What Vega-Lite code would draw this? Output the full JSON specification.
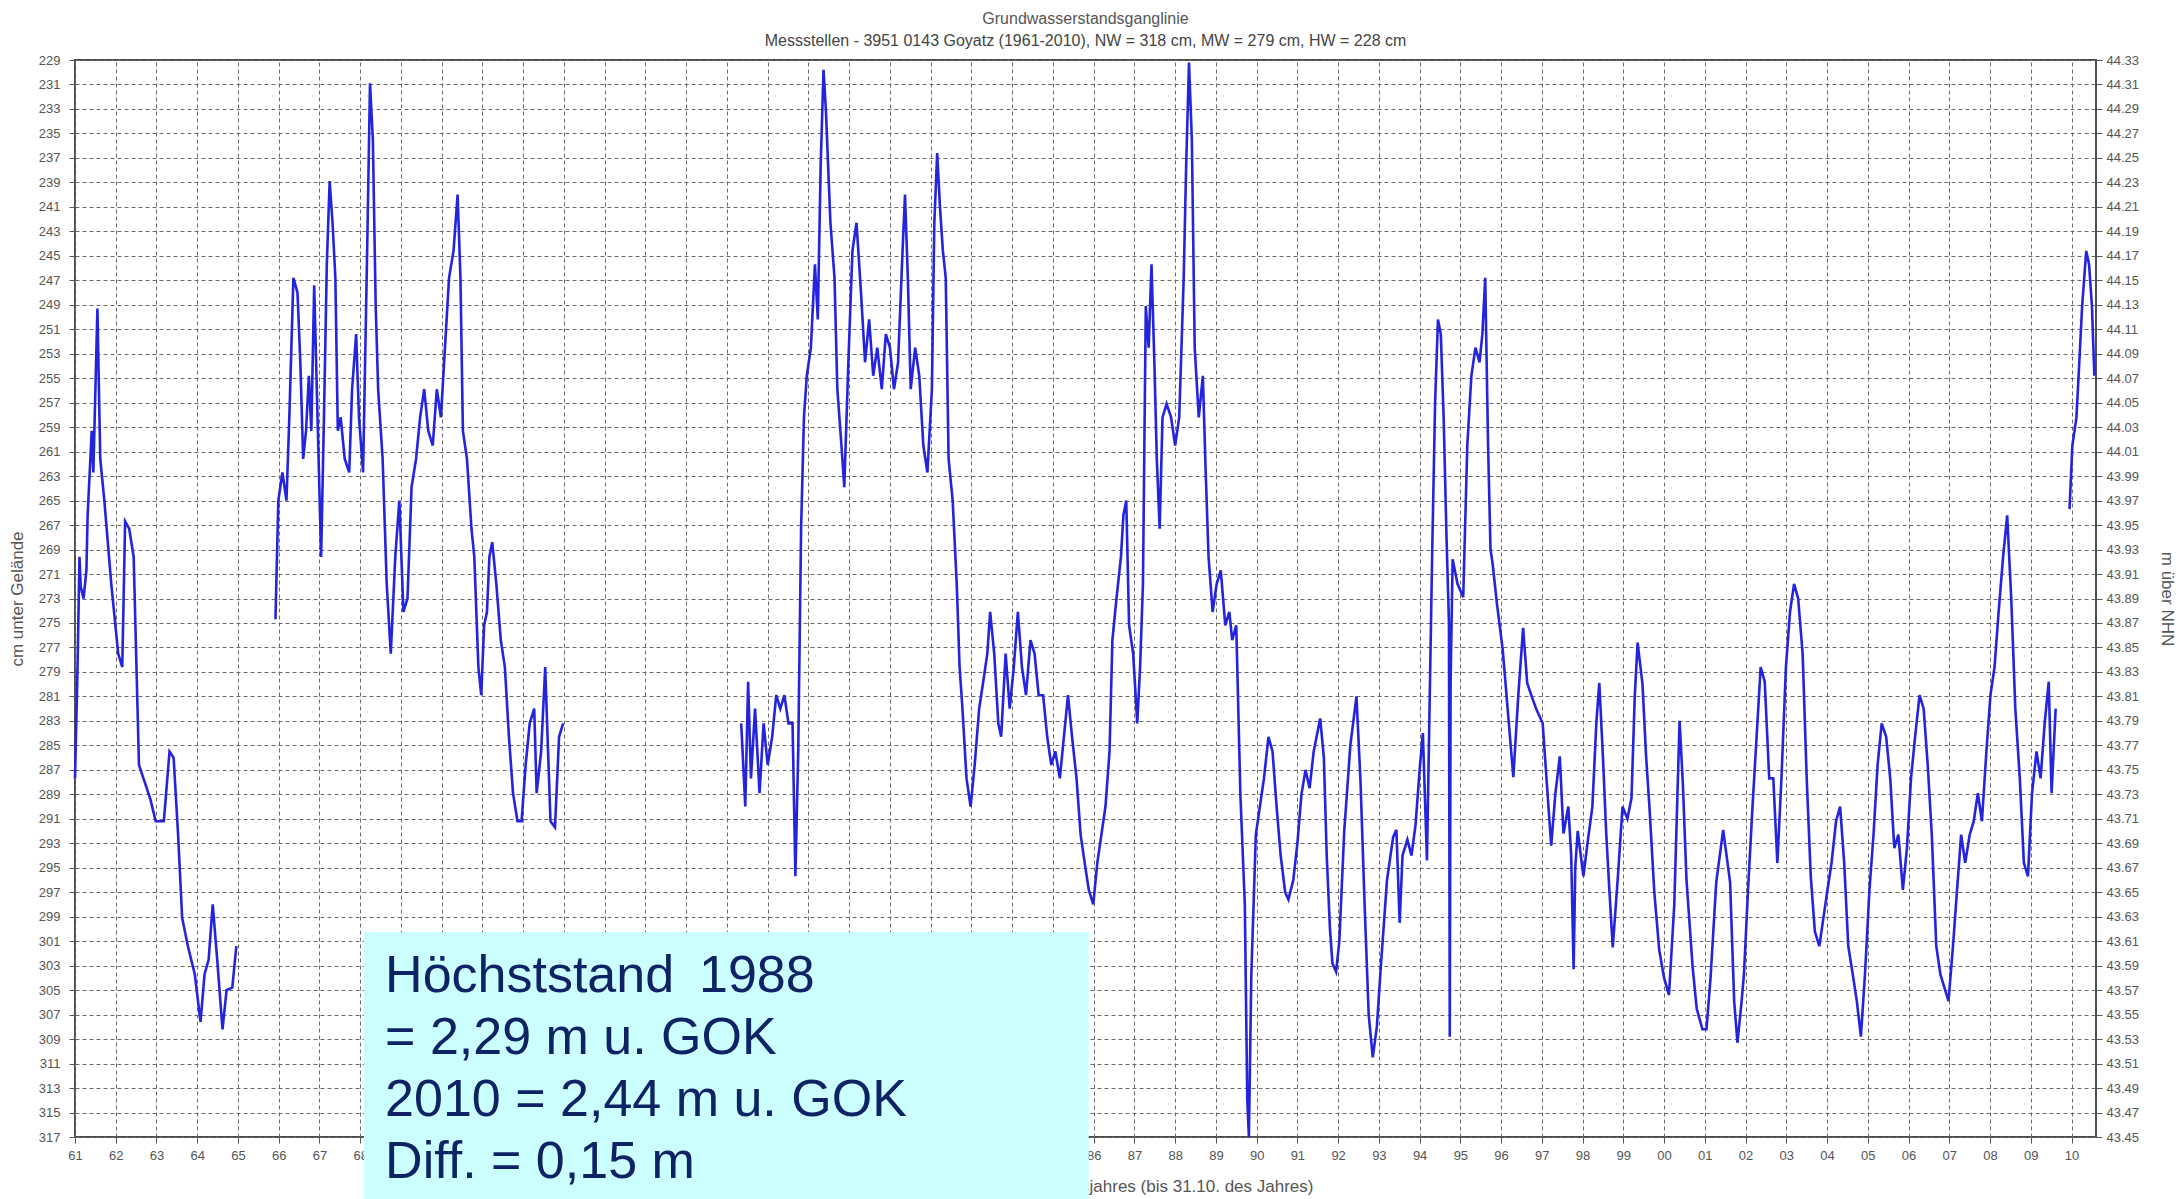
{
  "$schema": "https://vega.github.io/schema/vega-lite/v6.json",
  "width": 2021,
  "height": 1077,
  "autosize": {"type": "none"},
  "padding": {"left": 75, "top": 60, "right": 85, "bottom": 62},
  "background": "white",
  "title": {
    "text": "Grundwasserstandsganglinie",
    "subtitle": "Messstellen - 3951 0143 Goyatz (1961-2010), NW = 318 cm, MW = 279 cm, HW = 228 cm",
    "font": "Liberation Sans",
    "subtitleFont": "Liberation Sans",
    "fontSize": 16,
    "subtitleFontSize": 16,
    "fontWeight": "normal",
    "color": "#555555",
    "subtitleColor": "#444444",
    "anchor": "middle",
    "offset": 5,
    "subtitlePadding": 6
  },
  "config": {
    "font": "Liberation Sans",
    "view": {"stroke": "#4d4d4d", "strokeWidth": 2},
    "axis": {
      "labelFont": "Liberation Sans",
      "labelFontSize": 13,
      "labelColor": "#555555",
      "labelOverlap": false,
      "labelFlush": false,
      "titleFont": "Liberation Sans",
      "titleFontSize": 17,
      "titleFontWeight": "normal",
      "titleColor": "#555555",
      "tickColor": "#555555",
      "tickSize": 6,
      "labelPadding": 4,
      "domain": false,
      "gridColor": "#6a6a6a",
      "gridDash": [4, 3],
      "gridWidth": 1,
      "gridOpacity": 1
    }
  },
  "layer": [
    {
      "data": {
        "values": [
          {"t": 1961.0, "cm": 287.7, "s": 1}, {"t": 1961.06, "cm": 279.0, "s": 1}, {"t": 1961.11, "cm": 269.6, "s": 1},
          {"t": 1961.14, "cm": 272.0, "s": 1}, {"t": 1961.21, "cm": 273.0, "s": 1}, {"t": 1961.28, "cm": 270.7, "s": 1},
          {"t": 1961.31, "cm": 266.2, "s": 1}, {"t": 1961.41, "cm": 259.3, "s": 1}, {"t": 1961.45, "cm": 262.7, "s": 1},
          {"t": 1961.55, "cm": 249.3, "s": 1}, {"t": 1961.62, "cm": 261.6, "s": 1}, {"t": 1961.72, "cm": 265.0, "s": 1},
          {"t": 1961.89, "cm": 271.8, "s": 1}, {"t": 1962.06, "cm": 277.5, "s": 1}, {"t": 1962.16, "cm": 278.6, "s": 1},
          {"t": 1962.23, "cm": 266.7, "s": 1}, {"t": 1962.33, "cm": 267.3, "s": 1}, {"t": 1962.44, "cm": 269.6, "s": 1},
          {"t": 1962.57, "cm": 286.6, "s": 1}, {"t": 1962.68, "cm": 287.7, "s": 1}, {"t": 1962.85, "cm": 289.4, "s": 1},
          {"t": 1962.98, "cm": 291.2, "s": 1}, {"t": 1963.18, "cm": 291.2, "s": 1}, {"t": 1963.32, "cm": 285.5, "s": 1},
          {"t": 1963.42, "cm": 286.0, "s": 1}, {"t": 1963.53, "cm": 292.3, "s": 1}, {"t": 1963.63, "cm": 299.1, "s": 1},
          {"t": 1963.77, "cm": 301.4, "s": 1}, {"t": 1963.94, "cm": 303.7, "s": 1}, {"t": 1964.08, "cm": 307.6, "s": 1},
          {"t": 1964.18, "cm": 303.7, "s": 1}, {"t": 1964.28, "cm": 302.5, "s": 1}, {"t": 1964.38, "cm": 298.0, "s": 1},
          {"t": 1964.49, "cm": 302.5, "s": 1}, {"t": 1964.62, "cm": 308.2, "s": 1}, {"t": 1964.72, "cm": 305.0, "s": 1},
          {"t": 1964.86, "cm": 304.8, "s": 1}, {"t": 1964.96, "cm": 301.4, "s": 1},

          {"t": 1965.92, "cm": 274.7, "s": 2}, {"t": 1965.99, "cm": 265.0, "s": 2}, {"t": 1966.09, "cm": 262.7, "s": 2},
          {"t": 1966.19, "cm": 265.0, "s": 2}, {"t": 1966.26, "cm": 258.2, "s": 2}, {"t": 1966.36, "cm": 246.8, "s": 2},
          {"t": 1966.46, "cm": 248.0, "s": 2}, {"t": 1966.53, "cm": 253.7, "s": 2}, {"t": 1966.60, "cm": 261.6, "s": 2},
          {"t": 1966.67, "cm": 259.3, "s": 2}, {"t": 1966.74, "cm": 254.8, "s": 2}, {"t": 1966.80, "cm": 259.3, "s": 2},
          {"t": 1966.87, "cm": 247.4, "s": 2}, {"t": 1966.97, "cm": 260.5, "s": 2}, {"t": 1967.04, "cm": 269.6, "s": 2},
          {"t": 1967.11, "cm": 258.2, "s": 2}, {"t": 1967.18, "cm": 245.7, "s": 2}, {"t": 1967.25, "cm": 238.9, "s": 2},
          {"t": 1967.32, "cm": 242.3, "s": 2}, {"t": 1967.39, "cm": 246.8, "s": 2}, {"t": 1967.45, "cm": 259.3, "s": 2},
          {"t": 1967.52, "cm": 258.2, "s": 2}, {"t": 1967.62, "cm": 261.6, "s": 2}, {"t": 1967.73, "cm": 262.7, "s": 2},
          {"t": 1967.80, "cm": 255.9, "s": 2}, {"t": 1967.90, "cm": 251.4, "s": 2}, {"t": 1967.97, "cm": 258.2, "s": 2},
          {"t": 1968.07, "cm": 262.7, "s": 2}, {"t": 1968.17, "cm": 244.6, "s": 2}, {"t": 1968.24, "cm": 230.9, "s": 2},
          {"t": 1968.31, "cm": 235.5, "s": 2}, {"t": 1968.38, "cm": 249.1, "s": 2}, {"t": 1968.44, "cm": 255.9, "s": 2},
          {"t": 1968.55, "cm": 261.6, "s": 2}, {"t": 1968.65, "cm": 271.8, "s": 2}, {"t": 1968.75, "cm": 277.5, "s": 2},
          {"t": 1968.86, "cm": 269.6, "s": 2}, {"t": 1968.96, "cm": 265.0, "s": 2}, {"t": 1969.06, "cm": 274.1, "s": 2},
          {"t": 1969.16, "cm": 273.0, "s": 2}, {"t": 1969.26, "cm": 263.9, "s": 2}, {"t": 1969.37, "cm": 261.6, "s": 2},
          {"t": 1969.47, "cm": 258.2, "s": 2}, {"t": 1969.57, "cm": 255.9, "s": 2}, {"t": 1969.67, "cm": 259.3, "s": 2},
          {"t": 1969.78, "cm": 260.5, "s": 2}, {"t": 1969.88, "cm": 255.9, "s": 2}, {"t": 1969.98, "cm": 258.2, "s": 2},
          {"t": 1970.08, "cm": 252.5, "s": 2}, {"t": 1970.18, "cm": 246.8, "s": 2}, {"t": 1970.29, "cm": 244.6, "s": 2},
          {"t": 1970.39, "cm": 240.0, "s": 2}, {"t": 1970.46, "cm": 246.8, "s": 2}, {"t": 1970.52, "cm": 259.3, "s": 2},
          {"t": 1970.62, "cm": 261.6, "s": 2}, {"t": 1970.73, "cm": 267.3, "s": 2}, {"t": 1970.80, "cm": 269.6, "s": 2},
          {"t": 1970.90, "cm": 278.6, "s": 2}, {"t": 1970.97, "cm": 280.9, "s": 2}, {"t": 1971.04, "cm": 275.2, "s": 2},
          {"t": 1971.11, "cm": 274.1, "s": 2}, {"t": 1971.17, "cm": 269.6, "s": 2}, {"t": 1971.24, "cm": 268.4, "s": 2},
          {"t": 1971.34, "cm": 271.8, "s": 2}, {"t": 1971.45, "cm": 276.4, "s": 2}, {"t": 1971.55, "cm": 278.6, "s": 2},
          {"t": 1971.65, "cm": 284.3, "s": 2}, {"t": 1971.75, "cm": 288.9, "s": 2}, {"t": 1971.86, "cm": 291.2, "s": 2},
          {"t": 1971.96, "cm": 291.2, "s": 2}, {"t": 1972.06, "cm": 286.6, "s": 2}, {"t": 1972.16, "cm": 283.2, "s": 2},
          {"t": 1972.27, "cm": 282.0, "s": 2}, {"t": 1972.33, "cm": 288.9, "s": 2}, {"t": 1972.44, "cm": 285.5, "s": 2},
          {"t": 1972.54, "cm": 278.6, "s": 2}, {"t": 1972.61, "cm": 285.5, "s": 2}, {"t": 1972.67, "cm": 291.2, "s": 2},
          {"t": 1972.78, "cm": 291.7, "s": 2}, {"t": 1972.88, "cm": 284.3, "s": 2}, {"t": 1972.98, "cm": 283.2, "s": 2},

          {"t": 1977.35, "cm": 283.2, "s": 3}, {"t": 1977.45, "cm": 290.0, "s": 3}, {"t": 1977.52, "cm": 279.8, "s": 3},
          {"t": 1977.59, "cm": 287.7, "s": 3}, {"t": 1977.69, "cm": 282.0, "s": 3}, {"t": 1977.80, "cm": 288.9, "s": 3},
          {"t": 1977.90, "cm": 283.2, "s": 3}, {"t": 1978.00, "cm": 286.6, "s": 3}, {"t": 1978.11, "cm": 284.3, "s": 3},
          {"t": 1978.21, "cm": 280.9, "s": 3}, {"t": 1978.31, "cm": 282.0, "s": 3}, {"t": 1978.41, "cm": 280.9, "s": 3},
          {"t": 1978.51, "cm": 283.2, "s": 3}, {"t": 1978.61, "cm": 283.2, "s": 3}, {"t": 1978.68, "cm": 295.7, "s": 3},
          {"t": 1978.75, "cm": 285.5, "s": 3}, {"t": 1978.82, "cm": 267.3, "s": 3}, {"t": 1978.89, "cm": 258.2, "s": 3},
          {"t": 1978.96, "cm": 254.8, "s": 3}, {"t": 1979.06, "cm": 252.5, "s": 3}, {"t": 1979.16, "cm": 245.7, "s": 3},
          {"t": 1979.23, "cm": 250.2, "s": 3}, {"t": 1979.30, "cm": 237.7, "s": 3}, {"t": 1979.37, "cm": 229.8, "s": 3},
          {"t": 1979.43, "cm": 233.2, "s": 3}, {"t": 1979.54, "cm": 242.3, "s": 3}, {"t": 1979.64, "cm": 246.8, "s": 3},
          {"t": 1979.71, "cm": 255.9, "s": 3}, {"t": 1979.81, "cm": 260.5, "s": 3}, {"t": 1979.88, "cm": 263.9, "s": 3},
          {"t": 1979.98, "cm": 253.7, "s": 3}, {"t": 1980.08, "cm": 244.6, "s": 3}, {"t": 1980.18, "cm": 242.3, "s": 3},
          {"t": 1980.29, "cm": 248.0, "s": 3}, {"t": 1980.39, "cm": 253.7, "s": 3}, {"t": 1980.49, "cm": 250.2, "s": 3},
          {"t": 1980.59, "cm": 254.8, "s": 3}, {"t": 1980.69, "cm": 252.5, "s": 3}, {"t": 1980.80, "cm": 255.9, "s": 3},
          {"t": 1980.90, "cm": 251.4, "s": 3}, {"t": 1981.00, "cm": 252.5, "s": 3}, {"t": 1981.10, "cm": 255.9, "s": 3},
          {"t": 1981.20, "cm": 253.7, "s": 3}, {"t": 1981.31, "cm": 244.6, "s": 3}, {"t": 1981.37, "cm": 240.0, "s": 3},
          {"t": 1981.44, "cm": 246.8, "s": 3}, {"t": 1981.51, "cm": 255.9, "s": 3}, {"t": 1981.62, "cm": 252.5, "s": 3},
          {"t": 1981.72, "cm": 254.8, "s": 3}, {"t": 1981.82, "cm": 260.5, "s": 3}, {"t": 1981.92, "cm": 262.7, "s": 3},
          {"t": 1982.03, "cm": 255.9, "s": 3}, {"t": 1982.09, "cm": 242.3, "s": 3}, {"t": 1982.16, "cm": 236.6, "s": 3},
          {"t": 1982.23, "cm": 241.1, "s": 3}, {"t": 1982.30, "cm": 244.6, "s": 3}, {"t": 1982.37, "cm": 246.8, "s": 3},
          {"t": 1982.44, "cm": 261.6, "s": 3}, {"t": 1982.54, "cm": 265.0, "s": 3}, {"t": 1982.64, "cm": 271.8, "s": 3},
          {"t": 1982.71, "cm": 278.6, "s": 3}, {"t": 1982.78, "cm": 282.0, "s": 3}, {"t": 1982.88, "cm": 287.7, "s": 3},
          {"t": 1982.98, "cm": 290.0, "s": 3}, {"t": 1983.08, "cm": 286.6, "s": 3}, {"t": 1983.19, "cm": 282.0, "s": 3},
          {"t": 1983.29, "cm": 279.8, "s": 3}, {"t": 1983.39, "cm": 277.5, "s": 3}, {"t": 1983.46, "cm": 274.1, "s": 3},
          {"t": 1983.56, "cm": 277.5, "s": 3}, {"t": 1983.66, "cm": 283.2, "s": 3}, {"t": 1983.73, "cm": 284.3, "s": 3},
          {"t": 1983.84, "cm": 277.5, "s": 3}, {"t": 1983.94, "cm": 282.0, "s": 3}, {"t": 1984.04, "cm": 278.6, "s": 3},
          {"t": 1984.14, "cm": 274.1, "s": 3}, {"t": 1984.24, "cm": 278.6, "s": 3}, {"t": 1984.34, "cm": 280.9, "s": 3},
          {"t": 1984.45, "cm": 276.4, "s": 3}, {"t": 1984.55, "cm": 277.5, "s": 3}, {"t": 1984.65, "cm": 280.9, "s": 3},
          {"t": 1984.76, "cm": 280.9, "s": 3}, {"t": 1984.86, "cm": 284.3, "s": 3}, {"t": 1984.96, "cm": 286.6, "s": 3},
          {"t": 1985.06, "cm": 285.5, "s": 3}, {"t": 1985.17, "cm": 287.7, "s": 3}, {"t": 1985.27, "cm": 284.3, "s": 3},
          {"t": 1985.37, "cm": 280.9, "s": 3}, {"t": 1985.47, "cm": 284.3, "s": 3}, {"t": 1985.58, "cm": 287.7, "s": 3},
          {"t": 1985.68, "cm": 292.3, "s": 3}, {"t": 1985.78, "cm": 294.6, "s": 3}, {"t": 1985.88, "cm": 296.8, "s": 3},
          {"t": 1985.99, "cm": 298.0, "s": 3}, {"t": 1986.09, "cm": 294.6, "s": 3}, {"t": 1986.19, "cm": 292.3, "s": 3},
          {"t": 1986.29, "cm": 290.0, "s": 3}, {"t": 1986.39, "cm": 285.5, "s": 3}, {"t": 1986.46, "cm": 276.4, "s": 3},
          {"t": 1986.56, "cm": 273.0, "s": 3}, {"t": 1986.67, "cm": 269.6, "s": 3}, {"t": 1986.73, "cm": 266.2, "s": 3},
          {"t": 1986.80, "cm": 265.0, "s": 3}, {"t": 1986.87, "cm": 275.2, "s": 3}, {"t": 1986.97, "cm": 277.5, "s": 3},
          {"t": 1987.07, "cm": 283.2, "s": 3}, {"t": 1987.14, "cm": 278.6, "s": 3}, {"t": 1987.21, "cm": 271.8, "s": 3},
          {"t": 1987.28, "cm": 249.1, "s": 3}, {"t": 1987.35, "cm": 252.5, "s": 3}, {"t": 1987.42, "cm": 245.7, "s": 3},
          {"t": 1987.49, "cm": 253.7, "s": 3}, {"t": 1987.55, "cm": 261.6, "s": 3}, {"t": 1987.62, "cm": 267.3, "s": 3},
          {"t": 1987.69, "cm": 258.2, "s": 3}, {"t": 1987.79, "cm": 257.1, "s": 3}, {"t": 1987.90, "cm": 258.2, "s": 3},
          {"t": 1988.00, "cm": 260.5, "s": 3}, {"t": 1988.10, "cm": 258.2, "s": 3}, {"t": 1988.21, "cm": 246.8, "s": 3},
          {"t": 1988.27, "cm": 237.7, "s": 3}, {"t": 1988.34, "cm": 229.2, "s": 3}, {"t": 1988.41, "cm": 235.5, "s": 3},
          {"t": 1988.48, "cm": 252.5, "s": 3}, {"t": 1988.58, "cm": 258.2, "s": 3}, {"t": 1988.68, "cm": 254.8, "s": 3},
          {"t": 1988.75, "cm": 262.7, "s": 3}, {"t": 1988.82, "cm": 269.6, "s": 3}, {"t": 1988.92, "cm": 274.1, "s": 3},
          {"t": 1989.02, "cm": 271.8, "s": 3}, {"t": 1989.12, "cm": 270.7, "s": 3}, {"t": 1989.23, "cm": 275.2, "s": 3},
          {"t": 1989.33, "cm": 274.1, "s": 3}, {"t": 1989.40, "cm": 276.4, "s": 3}, {"t": 1989.50, "cm": 275.2, "s": 3},
          {"t": 1989.60, "cm": 288.9, "s": 3}, {"t": 1989.71, "cm": 298.0, "s": 3}, {"t": 1989.77, "cm": 313.9, "s": 3},
          {"t": 1989.81, "cm": 317.0, "s": 3}, {"t": 1989.87, "cm": 303.7, "s": 3}, {"t": 1989.98, "cm": 292.3, "s": 3},
          {"t": 1990.08, "cm": 290.0, "s": 3}, {"t": 1990.18, "cm": 287.7, "s": 3}, {"t": 1990.29, "cm": 284.3, "s": 3},
          {"t": 1990.39, "cm": 285.5, "s": 3}, {"t": 1990.49, "cm": 290.0, "s": 3}, {"t": 1990.59, "cm": 294.0, "s": 3},
          {"t": 1990.70, "cm": 297.0, "s": 3}, {"t": 1990.78, "cm": 297.6, "s": 3}, {"t": 1990.90, "cm": 296.0, "s": 3},
          {"t": 1991.00, "cm": 293.0, "s": 3}, {"t": 1991.10, "cm": 289.0, "s": 3}, {"t": 1991.20, "cm": 287.0, "s": 3},
          {"t": 1991.30, "cm": 288.5, "s": 3}, {"t": 1991.40, "cm": 285.5, "s": 3}, {"t": 1991.56, "cm": 282.8, "s": 3},
          {"t": 1991.65, "cm": 286.0, "s": 3}, {"t": 1991.72, "cm": 294.0, "s": 3}, {"t": 1991.80, "cm": 300.0, "s": 3},
          {"t": 1991.86, "cm": 302.8, "s": 3}, {"t": 1991.95, "cm": 303.5, "s": 3}, {"t": 1992.03, "cm": 301.0, "s": 3},
          {"t": 1992.15, "cm": 292.0, "s": 3}, {"t": 1992.30, "cm": 285.0, "s": 3}, {"t": 1992.45, "cm": 281.0, "s": 3},
          {"t": 1992.55, "cm": 288.0, "s": 3}, {"t": 1992.65, "cm": 298.0, "s": 3}, {"t": 1992.75, "cm": 307.0, "s": 3},
          {"t": 1992.85, "cm": 310.5, "s": 3}, {"t": 1992.95, "cm": 308.0, "s": 3}, {"t": 1993.05, "cm": 303.0, "s": 3},
          {"t": 1993.20, "cm": 296.0, "s": 3}, {"t": 1993.35, "cm": 292.5, "s": 3}, {"t": 1993.43, "cm": 291.9, "s": 3},
          {"t": 1993.51, "cm": 299.5, "s": 3}, {"t": 1993.58, "cm": 294.0, "s": 3}, {"t": 1993.70, "cm": 292.7, "s": 3},
          {"t": 1993.80, "cm": 294.0, "s": 3}, {"t": 1993.90, "cm": 291.5, "s": 3}, {"t": 1994.00, "cm": 287.0, "s": 3},
          {"t": 1994.08, "cm": 284.0, "s": 3}, {"t": 1994.18, "cm": 294.4, "s": 3}, {"t": 1994.31, "cm": 269.0, "s": 3},
          {"t": 1994.38, "cm": 257.0, "s": 3}, {"t": 1994.45, "cm": 250.2, "s": 3}, {"t": 1994.52, "cm": 251.4, "s": 3},
          {"t": 1994.59, "cm": 258.2, "s": 3}, {"t": 1994.66, "cm": 268.0, "s": 3}, {"t": 1994.72, "cm": 275.0, "s": 3},
          {"t": 1994.74, "cm": 308.8, "s": 3}, {"t": 1994.76, "cm": 280.0, "s": 3}, {"t": 1994.81, "cm": 269.8, "s": 3},
          {"t": 1994.93, "cm": 271.8, "s": 3}, {"t": 1995.07, "cm": 272.9, "s": 3}, {"t": 1995.17, "cm": 260.5, "s": 3},
          {"t": 1995.27, "cm": 254.8, "s": 3}, {"t": 1995.37, "cm": 252.5, "s": 3}, {"t": 1995.47, "cm": 253.7, "s": 3},
          {"t": 1995.54, "cm": 251.4, "s": 3}, {"t": 1995.61, "cm": 246.8, "s": 3}, {"t": 1995.68, "cm": 260.5, "s": 3},
          {"t": 1995.74, "cm": 269.0, "s": 3}, {"t": 1995.79, "cm": 270.1, "s": 3}, {"t": 1995.90, "cm": 273.5, "s": 3},
          {"t": 1996.04, "cm": 277.2, "s": 3}, {"t": 1996.16, "cm": 282.0, "s": 3}, {"t": 1996.30, "cm": 287.6, "s": 3},
          {"t": 1996.42, "cm": 281.0, "s": 3}, {"t": 1996.54, "cm": 275.4, "s": 3}, {"t": 1996.64, "cm": 279.9, "s": 3},
          {"t": 1996.75, "cm": 281.0, "s": 3}, {"t": 1996.87, "cm": 282.1, "s": 3}, {"t": 1997.02, "cm": 283.2, "s": 3},
          {"t": 1997.12, "cm": 288.0, "s": 3}, {"t": 1997.23, "cm": 293.2, "s": 3}, {"t": 1997.33, "cm": 289.0, "s": 3},
          {"t": 1997.44, "cm": 285.9, "s": 3}, {"t": 1997.53, "cm": 292.2, "s": 3}, {"t": 1997.65, "cm": 290.0, "s": 3},
          {"t": 1997.72, "cm": 294.0, "s": 3}, {"t": 1997.78, "cm": 303.3, "s": 3}, {"t": 1997.82, "cm": 295.0, "s": 3},
          {"t": 1997.88, "cm": 292.0, "s": 3}, {"t": 1998.02, "cm": 295.7, "s": 3}, {"t": 1998.12, "cm": 293.0, "s": 3},
          {"t": 1998.24, "cm": 290.0, "s": 3}, {"t": 1998.34, "cm": 283.0, "s": 3}, {"t": 1998.41, "cm": 279.9, "s": 3},
          {"t": 1998.50, "cm": 286.0, "s": 3}, {"t": 1998.58, "cm": 292.2, "s": 3}, {"t": 1998.66, "cm": 297.0, "s": 3},
          {"t": 1998.74, "cm": 301.5, "s": 3}, {"t": 1998.86, "cm": 296.0, "s": 3}, {"t": 1998.98, "cm": 290.0, "s": 3},
          {"t": 1999.10, "cm": 291.0, "s": 3}, {"t": 1999.20, "cm": 289.3, "s": 3}, {"t": 1999.28, "cm": 281.0, "s": 3},
          {"t": 1999.35, "cm": 276.6, "s": 3}, {"t": 1999.47, "cm": 280.0, "s": 3}, {"t": 1999.56, "cm": 286.0, "s": 3},
          {"t": 1999.64, "cm": 290.0, "s": 3}, {"t": 1999.76, "cm": 297.0, "s": 3}, {"t": 1999.88, "cm": 301.7, "s": 3},
          {"t": 2000.00, "cm": 304.0, "s": 3}, {"t": 2000.12, "cm": 305.4, "s": 3}, {"t": 2000.25, "cm": 298.0, "s": 3},
          {"t": 2000.38, "cm": 283.0, "s": 3}, {"t": 2000.46, "cm": 288.1, "s": 3}, {"t": 2000.55, "cm": 296.0, "s": 3},
          {"t": 2000.70, "cm": 303.1, "s": 3}, {"t": 2000.80, "cm": 306.5, "s": 3}, {"t": 2000.94, "cm": 308.2, "s": 3},
          {"t": 2001.04, "cm": 308.2, "s": 3}, {"t": 2001.14, "cm": 304.0, "s": 3}, {"t": 2001.28, "cm": 296.2, "s": 3},
          {"t": 2001.45, "cm": 291.9, "s": 3}, {"t": 2001.62, "cm": 296.2, "s": 3}, {"t": 2001.72, "cm": 305.9, "s": 3},
          {"t": 2001.80, "cm": 309.3, "s": 3}, {"t": 2001.90, "cm": 306.0, "s": 3}, {"t": 2001.96, "cm": 303.7, "s": 3},
          {"t": 2002.06, "cm": 296.8, "s": 3},
          {"t": 2002.17, "cm": 290.0, "s": 3}, {"t": 2002.27, "cm": 284.3, "s": 3}, {"t": 2002.37, "cm": 278.6, "s": 3},
          {"t": 2002.47, "cm": 279.8, "s": 3}, {"t": 2002.58, "cm": 287.7, "s": 3}, {"t": 2002.68, "cm": 287.7, "s": 3},
          {"t": 2002.78, "cm": 294.6, "s": 3}, {"t": 2002.88, "cm": 287.7, "s": 3}, {"t": 2002.99, "cm": 278.6, "s": 3},
          {"t": 2003.09, "cm": 274.1, "s": 3}, {"t": 2003.19, "cm": 271.8, "s": 3}, {"t": 2003.29, "cm": 273.0, "s": 3},
          {"t": 2003.40, "cm": 277.5, "s": 3}, {"t": 2003.50, "cm": 287.7, "s": 3}, {"t": 2003.60, "cm": 295.7, "s": 3},
          {"t": 2003.70, "cm": 300.2, "s": 3}, {"t": 2003.81, "cm": 301.4, "s": 3}, {"t": 2003.91, "cm": 299.1, "s": 3},
          {"t": 2004.01, "cm": 296.8, "s": 3}, {"t": 2004.11, "cm": 294.6, "s": 3}, {"t": 2004.22, "cm": 291.2, "s": 3},
          {"t": 2004.32, "cm": 290.0, "s": 3}, {"t": 2004.42, "cm": 294.6, "s": 3}, {"t": 2004.52, "cm": 301.4, "s": 3},
          {"t": 2004.63, "cm": 303.7, "s": 3}, {"t": 2004.73, "cm": 305.9, "s": 3}, {"t": 2004.83, "cm": 308.8, "s": 3},
          {"t": 2004.93, "cm": 303.7, "s": 3}, {"t": 2005.04, "cm": 296.8, "s": 3}, {"t": 2005.14, "cm": 292.3, "s": 3},
          {"t": 2005.24, "cm": 286.6, "s": 3}, {"t": 2005.34, "cm": 283.2, "s": 3}, {"t": 2005.45, "cm": 284.3, "s": 3},
          {"t": 2005.55, "cm": 287.7, "s": 3}, {"t": 2005.65, "cm": 293.4, "s": 3}, {"t": 2005.75, "cm": 292.3, "s": 3},
          {"t": 2005.86, "cm": 296.8, "s": 3}, {"t": 2005.96, "cm": 293.4, "s": 3}, {"t": 2006.06, "cm": 287.7, "s": 3},
          {"t": 2006.16, "cm": 284.3, "s": 3}, {"t": 2006.27, "cm": 280.9, "s": 3}, {"t": 2006.37, "cm": 282.0, "s": 3},
          {"t": 2006.47, "cm": 286.6, "s": 3}, {"t": 2006.57, "cm": 292.3, "s": 3}, {"t": 2006.68, "cm": 301.4, "s": 3},
          {"t": 2006.78, "cm": 303.7, "s": 3}, {"t": 2006.88, "cm": 304.8, "s": 3}, {"t": 2006.98, "cm": 305.9, "s": 3},
          {"t": 2007.09, "cm": 301.4, "s": 3}, {"t": 2007.19, "cm": 296.8, "s": 3}, {"t": 2007.29, "cm": 292.3, "s": 3},
          {"t": 2007.39, "cm": 294.6, "s": 3}, {"t": 2007.50, "cm": 292.3, "s": 3}, {"t": 2007.60, "cm": 291.2, "s": 3},
          {"t": 2007.70, "cm": 288.9, "s": 3}, {"t": 2007.80, "cm": 291.2, "s": 3}, {"t": 2007.91, "cm": 285.5, "s": 3},
          {"t": 2008.01, "cm": 280.9, "s": 3}, {"t": 2008.11, "cm": 278.6, "s": 3}, {"t": 2008.21, "cm": 274.1, "s": 3},
          {"t": 2008.32, "cm": 269.6, "s": 3}, {"t": 2008.42, "cm": 266.2, "s": 3}, {"t": 2008.52, "cm": 273.0, "s": 3},
          {"t": 2008.62, "cm": 282.0, "s": 3}, {"t": 2008.73, "cm": 287.7, "s": 3}, {"t": 2008.83, "cm": 294.6, "s": 3},
          {"t": 2008.93, "cm": 295.7, "s": 3}, {"t": 2009.03, "cm": 288.9, "s": 3}, {"t": 2009.14, "cm": 285.5, "s": 3},
          {"t": 2009.24, "cm": 287.7, "s": 3}, {"t": 2009.34, "cm": 283.2, "s": 3}, {"t": 2009.44, "cm": 279.8, "s": 3},
          {"t": 2009.51, "cm": 288.9, "s": 3}, {"t": 2009.61, "cm": 282.0, "s": 3},

          {"t": 2009.95, "cm": 265.7, "s": 4}, {"t": 2010.02, "cm": 260.5, "s": 4}, {"t": 2010.12, "cm": 258.2, "s": 4},
          {"t": 2010.19, "cm": 253.7, "s": 4}, {"t": 2010.26, "cm": 249.1, "s": 4}, {"t": 2010.36, "cm": 244.6, "s": 4},
          {"t": 2010.43, "cm": 245.7, "s": 4}, {"t": 2010.50, "cm": 249.1, "s": 4}, {"t": 2010.56, "cm": 254.8, "s": 4}
        ]
      },
      "mark": {"type": "line", "color": "#2424dc", "strokeWidth": 2.6},
      "encoding": {
        "x": {
          "field": "t",
          "type": "quantitative",
          "scale": {"domain": [1961, 2010.6], "nice": false, "zero": false},
          "axis": {
            "values": [1961,1962,1963,1964,1965,1966,1967,1968,1969,1970,1971,1972,1973,1974,1975,1976,1977,1978,1979,1980,1981,1982,1983,1984,1985,1986,1987,1988,1989,1990,1991,1992,1993,1994,1995,1996,1997,1998,1999,2000,2001,2002,2003,2004,2005,2006,2007,2008,2009,2010],
            "labelExpr": "datum.value >= 1969 && datum.value <= 1985 ? '' : substring(toString(datum.value), 2, 4)",
            "labelPadding": 6,
            "labelOverlap": false,
            "title": "Ende des Abflussjahres (bis 31.10. des Jahres)",
            "titleAlign": "right",
            "titleAnchor": null,
            "titleX": 1238,
            "titlePadding": 16,
            "grid": true
          }
        },
        "y": {
          "field": "cm",
          "type": "quantitative",
          "scale": {"domain": [229, 317], "reverse": true, "nice": false, "zero": false},
          "axis": {
            "values": [229,231,233,235,237,239,241,243,245,247,249,251,253,255,257,259,261,263,265,267,269,271,273,275,277,279,281,283,285,287,289,291,293,295,297,299,301,303,305,307,309,311,313,315,317],
            "labelPadding": 9,
            "labelOverlap": false,
            "title": "cm unter Gelände",
            "titlePadding": 12,
            "grid": true
          }
        },
        "detail": {"field": "s", "type": "nominal"}
      }
    },
    {
      "data": {"values": [{}]},
      "mark": {"type": "rect", "color": "#ccffff", "opacity": 1},
      "encoding": {
        "x": {"datum": 1968.09, "type": "quantitative"},
        "x2": {"datum": 1985.88},
        "y": {"datum": 300.25, "type": "quantitative", "scale": {"domain": [229, 317], "reverse": true, "nice": false, "zero": false}, "axis": null},
        "y2": {"datum": 323.0}
      }
    },
    {
      "data": {"values": [{}]},
      "mark": {
        "type": "text",
        "text": ["Höchststand\u2009 1988", "= 2,29 m u. GOK", "2010 = 2,44 m u. GOK", "Diff. = 0,15 m"],
        "align": "left",
        "baseline": "alphabetic",
        "font": "Liberation Sans",
        "fontSize": 52,
        "lineHeight": 62,
        "color": "#0d2366"
      },
      "encoding": {
        "x": {"datum": 1968.61, "type": "quantitative"},
        "y": {"datum": 305.15, "type": "quantitative", "scale": {"domain": [229, 317], "reverse": true, "nice": false, "zero": false}, "axis": null}
      }
    },
    {
      "data": {"values": [{}]},
      "mark": {"type": "point", "opacity": 0},
      "encoding": {
        "y": {
          "datum": 44.0,
          "type": "quantitative",
          "scale": {"domain": [43.45, 44.33], "nice": false, "zero": false},
          "axis": {
            "orient": "right",
            "values": [43.45,43.47,43.49,43.51,43.53,43.55,43.57,43.59,43.61,43.63,43.65,43.67,43.69,43.71,43.73,43.75,43.77,43.79,43.81,43.83,43.85,43.87,43.89,43.91,43.93,43.95,43.97,43.99,44.01,44.03,44.05,44.07,44.09,44.11,44.13,44.15,44.17,44.19,44.21,44.23,44.25,44.27,44.29,44.31,44.33],
            "format": ".2f",
            "grid": false,
            "title": "m über NHN",
            "titlePadding": 19
          }
        }
      }
    }
  ],
  "resolve": {"scale": {"y": "independent"}}
}
